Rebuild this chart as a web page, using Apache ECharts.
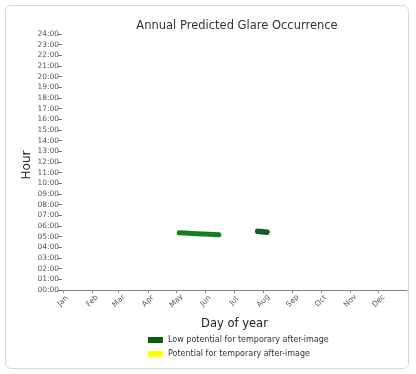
<!DOCTYPE html>
<html><head><meta charset="utf-8">
<script src="https://cdn.jsdelivr.net/npm/echarts@6/dist/echarts.min.js"></script>
<style>
html,body{margin:0;padding:0;background:#fff;}
#card{position:absolute;left:5px;top:5px;width:404px;height:364px;border:1px solid #d8d8d8;border-radius:6px;box-sizing:border-box;}
#chart{position:absolute;left:0;top:0;width:416px;height:374px;}
</style></head>
<body>
<div id="card"></div>
<div id="chart"></div>
<script>
const monthNames = ['Jan','Feb','Mar','Apr','May','Jun','Jul','Aug','Sep','Oct','Nov','Dec'];
const monthStartDays = [1,32,60,91,121,152,182,213,244,274,305,335];
const hourTicks = [0,1,2,3,4,5,6,7,8,9,10,11,12,13,14,15,16,17,18,19,20,21,22,23,24];
// glare occurrences [day of year, hour]
const lowPotentialBandA = [[124,5.36],[135,5.31],[150,5.25],[166,5.17]];
const lowPotentialBandB = [[207,5.50],[212,5.47],[217,5.42]];
const potentialAfterImage = [];

const chart = echarts.init(document.getElementById('chart'));
const font = 'DejaVu Sans';
chart.setOption({
  animation:false,
  textStyle:{fontFamily:font},
  title:{text:'Annual Predicted Glare Occurrence',left:232,textAlign:'center',top:15,
    textStyle:{fontFamily:font,fontSize:11.5,fontWeight:'normal',color:'#333'}},
  grid:{left:62,right:9,top:34,bottom:84},
  graphic:[{type:'text',x:27,y:165,rotation:Math.PI/2,
    style:{text:'Hour',fontFamily:font,fontSize:12,fill:'#222',align:'center',verticalAlign:'middle'}}],
  legend:{orient:'vertical',left:143,top:331,itemWidth:15,itemHeight:6,itemGap:6,
    icon:'rect',textStyle:{fontFamily:font,fontSize:8,color:'#333'},
    data:['Low potential for temporary after-image','Potential for temporary after-image']},
  xAxis:{type:'value',min:0,max:365,name:'Day of year',nameLocation:'middle',nameGap:28,
    nameTextStyle:{fontFamily:font,fontSize:11.5,color:'#222'},
    axisLine:{show:true,lineStyle:{color:'#888',width:1}},
    splitLine:{show:false},
    axisTick:{show:true,length:3,customValues:monthStartDays,lineStyle:{color:'#888'}},
    axisLabel:{customValues:monthStartDays,rotate:45,align:'center',verticalAlign:'middle',
      fontSize:7.5,color:'#555',margin:11,
      formatter:function(v){const i=monthStartDays.indexOf(v);return i>=0?monthNames[i]:'';}}
  },
  yAxis:{type:'value',min:0,max:24,interval:1,
    axisLine:{show:false},splitLine:{show:false},
    axisTick:{show:true,length:4,lineStyle:{color:'#777'}},
    axisLabel:{fontSize:7.5,color:'#555',margin:3,
      formatter:function(v){return (v<10?'0':'')+v+':00';}}
  },
  series:[
    {name:'Low potential for temporary after-image',type:'line',data:lowPotentialBandA,
      showSymbol:false,smooth:true,itemStyle:{color:'#0b5e0b'},
      lineStyle:{color:'#11801a',width:5,cap:'round'}},
    {name:'Low potential for temporary after-image',type:'line',data:lowPotentialBandB,
      showSymbol:false,smooth:true,itemStyle:{color:'#0b5e0b'},
      lineStyle:{color:'#1a5a2a',width:5.5,cap:'round'}},
    {name:'Potential for temporary after-image',type:'line',data:potentialAfterImage,
      showSymbol:false,itemStyle:{color:'#ffff00'},lineStyle:{color:'#ffff00',width:4}}
  ]
});
</script>
</body></html>
